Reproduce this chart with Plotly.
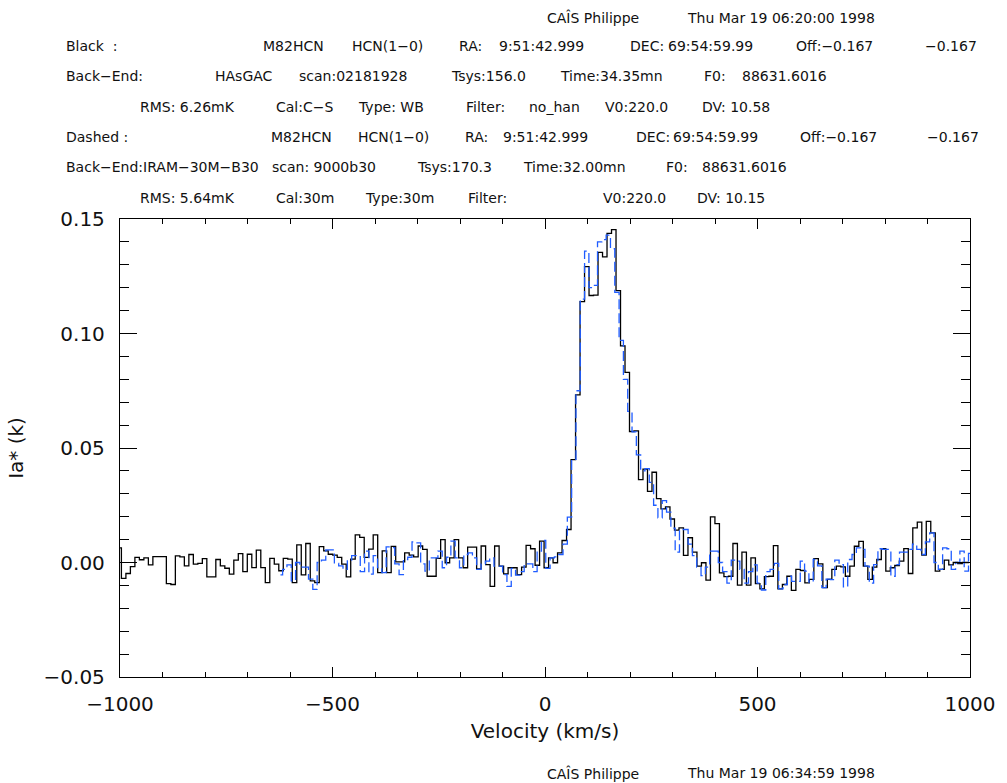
import numpy as np
import plotly.graph_objects as go

# ---------------- data ----------------
# Black spectrum (HAsGAC back-end), channel width DV = 10.58 km/s
BLACK_V_START = -1002.0
BLACK_DV = 10.58
black_ta = [
    0.0064,
    -0.0069, -0.0048, -0.0018, 0.0022, 0.0012, 0.0020, -0.0010, 0.0026, 0.0026, 0.0026,
    -0.0092, -0.0096, 0.0029, 0.0025, -0.0015, 0.0035, -0.0007, -0.0004, 0.0017, -0.0063,
    -0.0063, 0.0013, -0.0015, -0.0025, -0.0051, 0.0010, 0.0039, -0.0040, 0.0036, -0.0022,
    0.0054, -0.0022, -0.0088, 0.0018, -0.0007, -0.0036, 0.0018, 0.0015, -0.0088, 0.0077,
    -0.0054, 0.0083, -0.0080, -0.0088, 0.0069, 0.0051, 0.0036, 0.0032, 0.0022, -0.0007,
    -0.0063, 0.0015, 0.0121, 0.0110, 0.0022, 0.0058, 0.0121, -0.0044, 0.0051, -0.0044,
    0.0070, 0.0003, 0.0003, 0.0042, 0.0032, 0.0025, 0.0072, 0.0057, -0.0060, -0.0060,
    0.0018, 0.0100, -0.0001, 0.0020, 0.0100, 0.0020, -0.0023, 0.0067, 0.0067, -0.0028,
    0.0072, -0.0009, -0.0104, 0.0072, -0.0016, -0.0050, -0.0023, -0.0023, -0.0053, -0.0020,
    0.0075, 0.0060, -0.0012, 0.0093, -0.0023, 0.0020, -0.0001, 0.0042, 0.0096, 0.0144,
    0.0449, 0.0732, 0.1139, 0.1292, 0.1166, 0.1168, 0.1354, 0.1335, 0.1437, 0.1454,
    0.1187, 0.0946, 0.0830, 0.0572, 0.0575, 0.0362, 0.0408, 0.0311, 0.0394, 0.0279,
    0.0234, 0.0243, 0.0190, 0.0141, 0.0151, 0.0031, 0.0108, 0.0045, -0.0016, -0.0001,
    -0.0077, 0.0199, 0.0170, -0.0045, -0.0062, -0.0060, 0.0083, -0.0099, 0.0045, -0.0099,
    0.0020, -0.0092, -0.0115, -0.0062, -0.0060, 0.0074, -0.0115, -0.0096, -0.0060, -0.0122,
    -0.0030, -0.0035, -0.0089, -0.0074, 0.0017, -0.0006, -0.0110, -0.0074, -0.0030, -0.0016,
    -0.0019, -0.0060, -0.0016, 0.0071, 0.0092, -0.0016, -0.0074, -0.0020, 0.0013, 0.0061,
    -0.0038, -0.0023, -0.0013, 0.0006, 0.0061, -0.0048, 0.0151, 0.0176, 0.0032, 0.0180,
    0.0129, -0.0038, -0.0030, 0.0010, -0.0010, 0.0000, -0.0005, 0.0000, 0.0000,
]

# Dashed spectrum (IRAM-30M-B30 back-end), channel width DV = 10.15 km/s
BLUE_V_START = -622.45
BLUE_DV = 10.15
blue_ta = [
    -0.0054, -0.0030, -0.0010, -0.0080, 0.0000, -0.0020, -0.0020, -0.0073, -0.0117, 0.0000,
    0.0010, 0.0055, 0.0055, -0.0004, -0.0015, -0.0030, 0.0010, 0.0030, 0.0030, -0.0040,
    0.0050, -0.0051, 0.0030, -0.0022, -0.0044, 0.0068, 0.0065, -0.0006, -0.0053, 0.0013,
    0.0023, 0.0090, 0.0086, -0.0006, -0.0038, 0.0020, 0.0020, 0.0050, -0.0023, 0.0023,
    0.0093, 0.0020, -0.0023, 0.0035, 0.0042, 0.0020, -0.0030, -0.0006, 0.0006, 0.0020,
    -0.0016, -0.0016, -0.0053, -0.0104, -0.0026, -0.0055, -0.0040, -0.0006, -0.0006, -0.0040,
    0.0050, 0.0096, -0.0026, 0.0020, 0.0025, 0.0035, 0.0080, 0.0198, 0.0450, 0.0750,
    0.1150, 0.1360, 0.1200, 0.1210, 0.1400, 0.1410, 0.1430, 0.1370, 0.1180, 0.0970,
    0.0800, 0.0660, 0.0570, 0.0470, 0.0400, 0.0410, 0.0350, 0.0250, 0.0195, 0.0270,
    0.0220, 0.0150, 0.0045, 0.0144, 0.0144, 0.0080, 0.0030, -0.0020, -0.0057, -0.0020,
    0.0050, 0.0050, 0.0000, -0.0040, -0.0090, 0.0010, 0.0006, -0.0030, -0.0090, -0.0040,
    -0.0010, -0.0090, -0.0120, -0.0040, -0.0030, -0.0004, -0.0115, -0.0096, -0.0060, -0.0082,
    -0.0082, 0.0006, -0.0038, -0.0086, 0.0013, -0.0015, -0.0110, -0.0073, -0.0075, 0.0010,
    -0.0009, -0.0106, 0.0013, 0.0035, 0.0064, 0.0057, -0.0016, -0.0090, -0.0009, 0.0060,
    0.0057, 0.0057, -0.0060, -0.0009, 0.0045, 0.0045, 0.0057, 0.0080, 0.0057, 0.0035,
    0.0090, 0.0129, 0.0000, -0.0030, 0.0064, 0.0060, -0.0030, 0.0000, 0.0050, -0.0038,
    0.0040, 0.0000,
]

x_tick_vals = [-1000, -500, 0, 500, 1000]
x_tick_text = ["\u22121000", "\u2212500", "0", "500", "1000"]
y_tick_vals = [-0.05, 0.0, 0.05, 0.10, 0.15]
y_tick_text = ["\u22120.05", "0.00", "0.05", "0.10", "0.15"]
x_title = "Velocity (km/s)"
y_title = "Ia* (k)"

header_top = ["CA\u00ceS Philippe", "Thu Mar 19 06:20:00 1998"]
header_bottom = ["CA\u00ceS Philippe", "Thu Mar 19 06:34:59 1998"]
black_line1 = ["Black  :", "M82HCN", "HCN(1\u22120)", "RA:", "9:51:42.999", "DEC:",
               "69:54:59.99", "Off:\u22120.167", "\u22120.167"]
black_line2 = ["Back\u2212End:", "HAsGAC", "scan:02181928", "Tsys:156.0",
               "Time:34.35mn", "F0:", "88631.6016"]
black_line3 = ["RMS: 6.26mK", "Cal:C\u2212S", "Type: WB", "Filter:", "no_han",
               "V0:220.0", "DV: 10.58"]
dash_line1 = ["Dashed :", "M82HCN", "HCN(1\u22120)", "RA:", "9:51:42.999", "DEC:",
              "69:54:59.99", "Off:\u22120.167", "\u22120.167"]
dash_line2 = ["Back\u2212End:IRAM\u221230M\u2212B30", "scan: 9000b30", "Tsys:170.3",
              "Time:32.00mn", "F0:", "88631.6016"]
dash_line3 = ["RMS: 5.64mK", "Cal:30m", "Type:30m", "Filter:", "V0:220.0", "DV: 10.15"]

# ---------------- layout ----------------
W, H = 1007, 783
ML, MR, MT, MB = 120, 30, 219, 106
PW, PH = W - ML - MR, H - MT - MB
FONT = "DejaVu Sans"
INK = "#111111"

# left pixel positions of tokens, and the centre y of each header line
header_layout = [
    (header_top, [549, 690], 18),
    (black_line1, [64, 262, 352, 460, 500, 632, 670, 800, 930], 46),
    (black_line2, [64, 214, 298, 452, 562, 707, 745], 76),
    (black_line3, [138, 275, 358, 467, 530, 607, 705], 107),
    (dash_line1, [64, 270, 358, 466, 504, 638, 676, 804, 932], 137),
    (dash_line2, [64, 271, 417, 524, 668, 705], 167),
    (dash_line3, [138, 275, 365, 469, 605, 700], 198),
    (header_bottom, [549, 690], 773),
]


def px(x):
    return (x - ML) / PW


def py(y):
    return (H - MB - y) / PH


vb = BLACK_V_START + BLACK_DV * np.arange(len(black_ta))
vd = BLUE_V_START + BLUE_DV * np.arange(len(blue_ta))

fig = go.Figure()
fig.add_trace(go.Scatter(
    x=vb, y=black_ta, mode="lines", line=dict(color="black", width=1.3, shape="hvh"),
    hoverinfo="skip", showlegend=False))
fig.add_trace(go.Scatter(
    x=vd, y=blue_ta, mode="lines",
    line=dict(color="#1f5cff", width=1.3, shape="hvh", dash="10px,4px"),
    hoverinfo="skip", showlegend=False))

annotations = []
for texts, xs, y in header_layout:
    for t, x in zip(texts, xs):
        annotations.append(dict(
            text=t, x=px(x), y=py(y), xref="paper", yref="paper",
            xanchor="left", yanchor="middle", showarrow=False,
            font=dict(family=FONT, size=14, color=INK)))

fig.update_layout(
    width=W, height=H, autosize=False,
    margin=dict(l=ML, r=MR, t=MT, b=MB, pad=0),
    paper_bgcolor="white", plot_bgcolor="white",
    font=dict(family=FONT, color=INK),
    annotations=annotations,
    showlegend=False,
)

fig.update_xaxes(
    range=[-1000, 1000], tickvals=x_tick_vals, ticktext=x_tick_text,
    ticks="inside", ticklen=10, tickwidth=1.2, tickcolor="black",
    minor=dict(dtick=100, tick0=0, ticks="inside", ticklen=5, tickwidth=1.2, tickcolor="black"),
    showline=True, linecolor="black", linewidth=1.3, mirror="ticks",
    showgrid=False, zeroline=False,
    tickfont=dict(family=FONT, size=20, color=INK), ticklabelstandoff=9,
    title=dict(text=x_title, font=dict(family=FONT, size=20, color=INK), standoff=8),
)
fig.update_yaxes(
    range=[-0.05, 0.15], tickvals=y_tick_vals, ticktext=y_tick_text,
    ticks="inside", ticklen=17, tickwidth=1.2, tickcolor="black",
    minor=dict(dtick=0.01, tick0=0, ticks="inside", ticklen=9, tickwidth=1.2, tickcolor="black"),
    showline=True, linecolor="black", linewidth=1.3, mirror="ticks",
    showgrid=False, zeroline=False,
    tickfont=dict(family=FONT, size=20, color=INK), ticklabelstandoff=10,
    title=dict(text=y_title, font=dict(family=FONT, size=20, color=INK), standoff=14),
)

fig.write_html(
    "out.html",
    config={"displayModeBar": False},
    post_script="document.body.style.margin='0';document.body.style.overflow='hidden';",
)
